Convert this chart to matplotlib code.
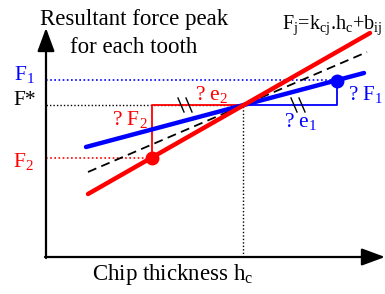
import matplotlib
matplotlib.use("Agg")
import matplotlib.pyplot as plt
import numpy as np

plt.rcParams["font.family"] = "Liberation Serif"
plt.rcParams["mathtext.fontset"] = "custom"
plt.rcParams["mathtext.rm"] = "Liberation Serif"
plt.rcParams["mathtext.it"] = "Liberation Serif:italic"

# ---- data (chip thickness h, force F; arbitrary units) ----
h_star, F_star = 197, 152
blue_h, blue_F = [40, 318], [110, 184]      # tooth 1 fit
red_h, red_F = [42, 324], [63, 224]         # tooth 2 fit
mean_h, mean_F = [42, 321], [85, 205]       # reference (dashed)
pt1_h, F1 = 291, 177
pt2_h, F2 = 106, 99
hash_red = [135, 143]
hash_blue = [248, 256]

fig = plt.figure(figsize=(3.85, 2.94), dpi=100)
ax = fig.add_axes([0, 0, 1, 1])
ax.set_xlim(-46, 339)
ax.set_ylim(-37, 257)
ax.axis("off")

# axes arrows
arrow = dict(arrowstyle="-|>,head_length=0.65,head_width=0.24", lw=1.6, color="black",
             mutation_scale=22, shrinkA=0, shrinkB=0)
ax.annotate("", xy=(339, 0), xytext=(-1, 0), arrowprops=arrow)
ax.annotate("", xy=(0, 229), xytext=(0, -1), arrowprops=arrow)

# guide lines
ax.plot([0, pt1_h], [F1, F1], color="blue", ls=(0, (1, 1.5)), lw=1.2)
ax.plot([0, h_star], [F_star, F_star], color="black", ls=(0, (1, 1.5)), lw=1.0)
ax.plot([0, pt2_h], [F2, F2], color="red", ls=(0, (1, 1.5)), lw=1.2)
ax.plot([h_star, h_star], [0, F_star], color="black", ls=(0, (1, 1.5)), lw=1.0)

# delta constructions
ax.plot([pt2_h, pt2_h, h_star], [F2, F_star, F_star], color="red", lw=1.3)
ax.plot([h_star, pt1_h, pt1_h], [F_star, F_star, F1], color="blue", lw=1.3)
for hc in hash_red + hash_blue:
    ax.plot([hc - 3, hc + 3], [F_star + 7, F_star - 7], color="black", lw=1.0)

# fitted lines
ax.plot(mean_h, mean_F, color="black", ls=(0, (5, 3)), lw=1.3)
ax.plot(blue_h, blue_F, color="blue", lw=3.2, solid_capstyle="round")
ax.plot(red_h, red_F, color="red", lw=3.2, solid_capstyle="round")
ax.plot(pt1_h, F1 - 1, "o", color="blue", ms=9)
ax.plot(pt2_h, F2, "o", color="red", ms=9)

# text
ax.text(88, 232, "Resultant force peak", ha="center", va="baseline", fontsize=16.5)
ax.text(88, 204, "for each tooth", ha="center", va="baseline", fontsize=16.5)
ax.text(46, -23, "Chip thickness h$_\\mathrm{c}$", ha="left", va="baseline", fontsize=16.5)
ax.text(236, 228, "F$_\\mathrm{j}$=k$_\\mathrm{cj}$.h$_\\mathrm{c}$+b$_\\mathrm{ij}$", ha="left", va="baseline", fontsize=14.5)
ax.text(-32, F1, "F$_1$", color="blue", ha="left", va="baseline", fontsize=15.5)
ax.text(-33, F_star, "F*", color="black", ha="left", va="baseline", fontsize=15.5)
ax.text(-33, 90, "F$_2$", color="red", ha="left", va="baseline", fontsize=15.5)
ax.text(pt2_h - 4, 132, "? F$_2$", color="red", ha="right", va="baseline", fontsize=15.5)
ax.text(149, 157, "? e$_2$", color="red", ha="left", va="baseline", fontsize=15.5)
ax.text(302, 157, "? F$_1$", color="blue", ha="left", va="baseline", fontsize=15)
ax.text(238, 130, "? e$_1$", color="blue", ha="left", va="baseline", fontsize=15.5)

fig.savefig("out.png", dpi=100)
